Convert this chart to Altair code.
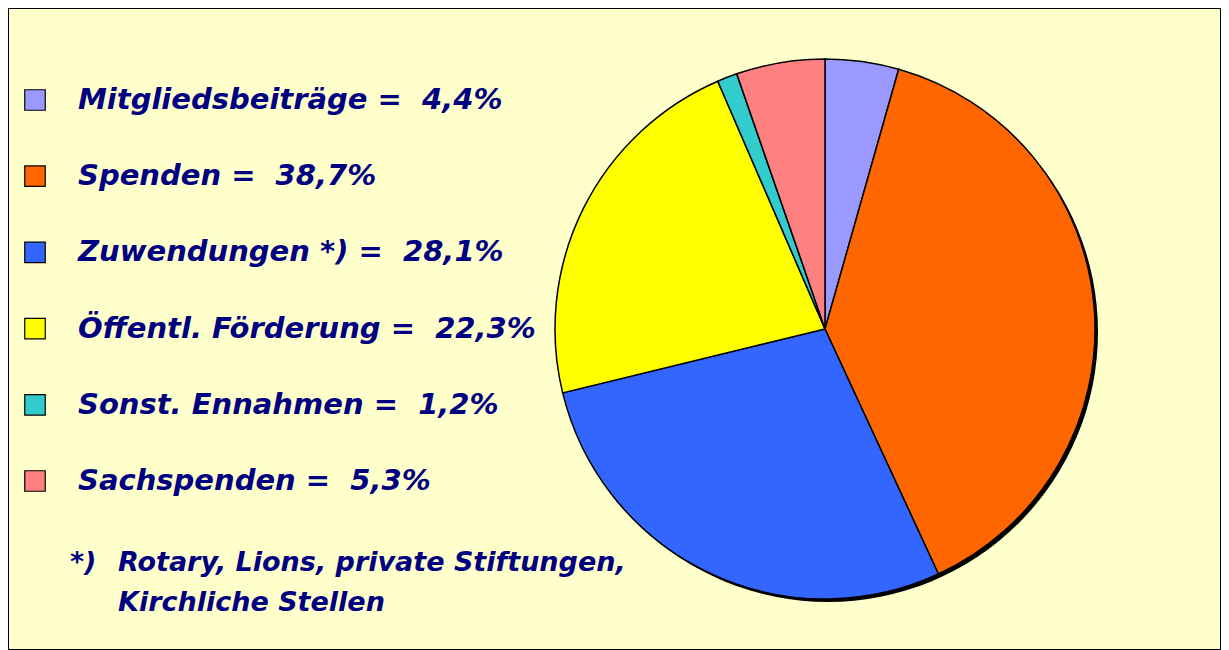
import math
import altair as alt
import pandas as pd

# ---- data ----
categories = ["Mitgliedsbeiträge", "Spenden", "Zuwendungen *)", "Öffentl. Förderung",
              "Sonst. Ennahmen", "Sachspenden"]
shares = [4.4, 38.7, 28.1, 22.3, 1.2, 5.3]
colors = ["#9999FF", "#FF6600", "#3366FF", "#FFFF00", "#33CCCC", "#FF8080"]
footnote_mark = ["*)"]
footnote_lines = ["Rotary, Lions, private Stiftungen,", "Kirchliche Stellen"]

labels = [f"{c} =\u00a0 {str(v).replace('.', ',')}%" for c, v in zip(categories, shares)]
df = pd.DataFrame({"category": categories, "share": shares, "label": labels,
                   "idx": list(range(len(categories)))})

NAVY = "#000080"
FONT = "DejaVu Sans"
CX, CY, R = 817, 321, 270

color_scale = alt.Scale(domain=categories, range=colors)
y_scale = alt.Scale(type="point", domain=labels, range=[92, 473], padding=0)

base = alt.Chart(df)

shadow = alt.Chart(alt.Data(values=[{"s": 1}])).mark_arc(
    color="black", theta=0, theta2=2 * math.pi, radius=R
).encode(x=alt.value(CX + 3), y=alt.value(CY + 3))

pie = base.mark_arc(radius=R, stroke="black", strokeWidth=1.5).encode(
    theta=alt.Theta("share:Q", stack=True),
    color=alt.Color("category:N", scale=color_scale, legend=None),
    order=alt.Order("idx:Q"),
    x=alt.value(CX),
    y=alt.value(CY),
)

squares = base.mark_square(size=420, stroke="black", strokeWidth=1.2, opacity=1).encode(
    x=alt.value(27),
    y=alt.Y("label:N", scale=y_scale, axis=None),
    color=alt.Color("category:N", scale=color_scale, legend=None),
)

texts = base.mark_text(align="left", baseline="middle", font=FONT, fontSize=29,
                       fontStyle="italic", fontWeight="bold", color=NAVY).encode(
    x=alt.value(70),
    y=alt.Y("label:N", scale=y_scale, axis=None),
    text="label:N",
)

fn_df = pd.DataFrame({"t": footnote_lines, "i": [0, 1]})
fn_mark = alt.Chart(pd.DataFrame({"t": footnote_mark})).mark_text(
    align="left", baseline="middle", font=FONT, fontSize=27, fontStyle="italic",
    fontWeight="bold", color=NAVY).encode(x=alt.value(62), y=alt.value(555), text="t:N")
fn_lines = alt.Chart(fn_df).mark_text(
    align="left", baseline="middle", font=FONT, fontSize=27, fontStyle="italic",
    fontWeight="bold", color=NAVY).encode(
    x=alt.value(110),
    y=alt.Y("i:O", scale=alt.Scale(type="point", domain=[0, 1], range=[555, 595], padding=0), axis=None),
    text="t:N",
)

chart = alt.layer(shadow, pie, squares, texts, fn_mark, fn_lines).resolve_scale(
    y="independent"
).properties(
    width=1213, height=642,
    autosize=alt.AutoSizeParams(type="fit", contains="padding"),
    padding=0,
    background="#FFFFCC",
).configure_view(stroke="black", strokeWidth=2)

chart.save("out.html", embed_options={"renderer": "svg", "actions": False})
